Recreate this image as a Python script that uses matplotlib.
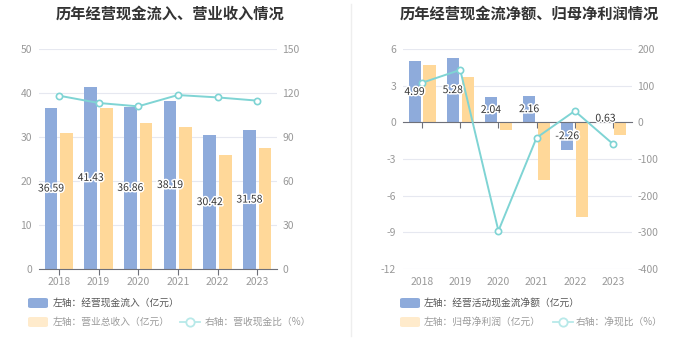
import matplotlib
matplotlib.use('Agg')
import matplotlib.pyplot as plt
import matplotlib.patheffects as pe
from matplotlib.patches import FancyBboxPatch
from matplotlib.lines import Line2D
import numpy as np

plt.rcParams['font.family'] = ['Noto Sans CJK SC', 'DejaVu Sans']
plt.rcParams['axes.unicode_minus'] = False

# data
years = ['2018', '2019', '2020', '2021', '2022', '2023']

# left panel
inflow = [36.59, 41.43, 36.86, 38.19, 30.42, 31.58]      # 经营现金流入 (亿元)
revenue = [31.0, 36.7, 33.2, 32.2, 26.0, 27.6]           # 营业总收入 (亿元)
cash_ratio = [118.2, 113.2, 110.9, 118.6, 117.0, 114.8]  # 营收现金比 (%)

# right panel
net_cf = [4.99, 5.28, 2.04, 2.16, -2.26, 0.63]           # 经营活动现金流净额 (亿元)
net_cf_bar = [4.99, 5.28, 2.04, 2.16, -2.26, 0.0]        # 2023 bar not drawn in the source
net_profit = [4.69, 3.71, -0.63, -4.72, -7.75, -1.01]    # 归母净利润 (亿元)
net_ratio = [108, 143, -296, -42, 31, -59]               # 净现比 (%)

BLUE = '#8eabdb'
YELLOW = '#ffd899'
TEAL = '#7fd4d4'
GRID = '#e6e8f0'
AXIS = '#6e7079'
TICK = '#999999'

fig = plt.figure(figsize=(7, 3.6), dpi=100)
W, H = 700.0, 360.0


def px_axes(x0, y0, x1, y1):
    return fig.add_axes([x0 / W, 1 - y1 / H, (x1 - x0) / W, (y1 - y0) / H])


def style(ax, ax2):
    for a in (ax, ax2):
        for s in a.spines.values():
            s.set_visible(False)
        a.tick_params(axis='y', length=0, labelsize=7.5, labelcolor=TICK)
    ax.tick_params(axis='y', pad=5)
    ax2.tick_params(axis='y', pad=4)
    ax.grid(axis='y', color=GRID, lw=0.8)
    ax.set_axisbelow(True)
    ax.set_xlim(-0.5, len(years) - 0.5)


def bar_labels(ax, x, vals, texts):
    for xi, v, t in zip(x, vals, texts):
        ax.text(xi, v / 2, t, ha='center', va='center', fontsize=7.5,
                color='#333333', zorder=6,
                path_effects=[pe.withStroke(linewidth=2.2, foreground='white')])


x = np.arange(len(years))
bw = 0.32
off = 0.195

# ---- left panel ----
ax = px_axes(39, 49, 277, 269)
ax2 = ax.twinx()
style(ax, ax2)
ax.bar(x - off, inflow, bw, color=BLUE, zorder=2)
ax.bar(x + off, revenue, bw, color=YELLOW, zorder=2)
ax.set_ylim(0, 50)
ax.set_yticks(np.arange(0, 51, 10))
ax2.set_ylim(0, 150)
ax2.set_yticks(np.arange(0, 151, 30))
ax2.plot(x, cash_ratio, color=TEAL, lw=1.4, marker='o', ms=4.5,
         mfc='white', mec=TEAL, mew=1.2, zorder=5)
ax.spines['bottom'].set_visible(True)
ax.spines['bottom'].set_color(AXIS)
ax.set_xticks(x)
ax.set_xticklabels(years)
ax.tick_params(axis='x', length=4, color=AXIS, labelsize=7.5,
               labelcolor=TICK, pad=2)
bar_labels(ax2, x - off, [v * 3 for v in inflow], ['%.2f' % v for v in inflow])

# ---- right panel ----
bx = px_axes(403, 49, 632, 269)
bx2 = bx.twinx()
style(bx, bx2)
bx.bar(x - off, net_cf_bar, bw, color=BLUE, zorder=2)
bx.bar(x + off, net_profit, bw, color=YELLOW, zorder=2)
bx.set_ylim(-12, 6)
bx.set_yticks(np.arange(-12, 7, 3))
bx2.set_ylim(-400, 200)
bx2.set_yticks(np.arange(-400, 201, 100))
bx2.plot(x, net_ratio, color=TEAL, lw=1.4, marker='o', ms=4.5,
         mfc='white', mec=TEAL, mew=1.2, zorder=5)
bx.spines['bottom'].set_visible(True)
bx.spines['bottom'].set_position(('data', 0))
bx.spines['bottom'].set_color(AXIS)
bx.spines['bottom'].set_zorder(3)
bx.set_xticks(x)
bx.set_xticklabels([])
bx.tick_params(axis='x', length=4, color=AXIS)
for xi, yr in zip(x, years):
    bx.text(xi, -0.035, yr, transform=bx.get_xaxis_transform(), ha='center',
            va='top', fontsize=7.5, color=TICK)
bar_labels(bx2, x - off, [v * 100 / 3 for v in net_cf], ['%.2f' % v for v in net_cf])

# ---- titles ----
fig.text(170 / W, 1 - 14 / H, '历年经营现金流入、营业收入情况', ha='center', va='center',
         fontsize=11, fontweight='bold', color='#333333')
fig.text(529 / W, 1 - 14 / H, '历年经营现金流净额、归母净利润情况', ha='center', va='center',
         fontsize=11, fontweight='bold', color='#333333')

# separator
fig.add_artist(Line2D([351 / W, 351 / W], [1 - 4 / H, 1 - 336 / H], color='#eeeeee', lw=1))


# ---- legends ----
def patch(x0, y, color):
    fig.add_artist(FancyBboxPatch((x0 / W, 1 - (y + 5) / H), 20 / W, 10 / H,
                                  boxstyle='round,pad=0,rounding_size=0.004',
                                  transform=fig.transFigure, color=color, lw=0))


def line_icon(x0, y):
    yy = 1 - y / H
    fig.add_artist(Line2D([x0 / W, (x0 + 20) / W], [yy, yy], color='#b8e9e9', lw=1.3))
    fig.add_artist(Line2D([(x0 + 10) / W], [yy], marker='o', ms=6, mfc='white',
                          mec='#b8e9e9', mew=1.3))


def label(x0, y, s, color):
    fig.text(x0 / W, 1 - y / H, s, ha='left', va='center', fontsize=7, color=color)


patch(28, 303, BLUE)
label(53, 303, '左轴：经营现金流入（亿元）', '#555555')
patch(28, 322, '#ffebcc')
label(53, 322, '左轴：营业总收入（亿元）', '#9a9a9a')
line_icon(180, 322)
label(205, 322, '右轴：营收现金比（%）', '#9a9a9a')

patch(400, 303, BLUE)
label(424, 303, '左轴：经营活动现金流净额（亿元）', '#555555')
patch(400, 322, '#ffebcc')
label(424, 322, '左轴：归母净利润（亿元）', '#9a9a9a')
line_icon(553, 322)
label(576, 322, '右轴：净现比（%）', '#9a9a9a')

fig.savefig('out.png', dpi=100)
